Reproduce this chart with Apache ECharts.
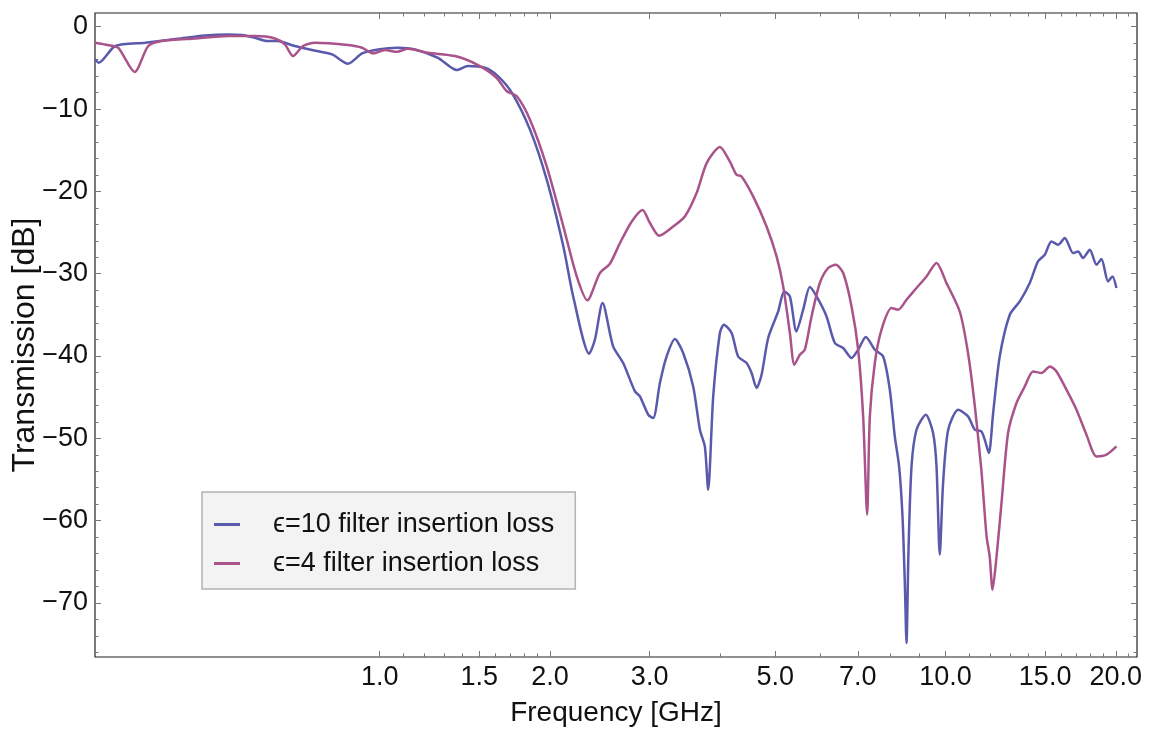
<!DOCTYPE html>
<html>
<head>
<meta charset="utf-8">
<script src="https://cdn.jsdelivr.net/npm/echarts@6/dist/echarts.min.js"></script>
<style>
html,body{margin:0;padding:0;background:#fff;}
#chart{width:1151px;height:731px;}
</style>
</head>
<body>
<div id="chart"></div>
<script>
// ---- data (frequency in GHz, transmission in dB) ----
const blueFreq = [0.314,0.319,0.341,0.385,0.440,0.491,0.540,0.571,0.602,0.632,0.659,0.708,0.759,0.824,0.879,0.931,0.993,1.077,1.154,1.268,1.369,1.432,1.535,1.618,1.713,1.843,1.973,2.111,2.198,2.346,2.401,2.477,2.586,2.694,2.826,2.884,2.983,3.044,3.128,3.215,3.325,3.439,3.582,3.681,3.756,3.807,3.886,3.993,4.059,4.188,4.301,4.451,4.543,4.636,4.731,4.860,5.062,5.187,5.309,5.451,5.604,5.758,5.918,6.163,6.375,6.595,6.823,7.009,7.232,7.501,7.759,7.973,8.136,8.280,8.395,8.475,8.533,8.603,8.709,8.887,9.231,9.508,9.641,9.770,9.903,10.11,10.53,10.96,11.27,11.57,11.73,11.93,12.14,12.47,12.99,13.53,14.09,14.57,14.98,15.39,15.81,16.25,16.81,17.15,17.50,17.99,18.49,18.86,19.38,19.73,20.05];
const blueDb = [-3.97,-4.37,-2.34,-1.94,-1.46,-1.06,-0.94,-1.01,-1.34,-1.74,-1.74,-2.34,-2.83,-3.36,-4.49,-3.24,-2.76,-2.55,-2.76,-3.77,-5.26,-4.77,-4.98,-5.99,-8.02,-12.47,-18.55,-26.64,-32.76,-39.72,-38.02,-33.56,-38.83,-40.85,-44.30,-44.90,-47.13,-47.53,-43.28,-40.05,-37.93,-39.63,-43.69,-48.95,-50.98,-56.24,-44.90,-37.20,-36.20,-37.20,-40.05,-40.85,-42.06,-43.88,-42.27,-37.81,-34.58,-32.15,-32.76,-37.01,-34.37,-31.62,-32.76,-35.19,-38.42,-39.03,-40.24,-39.23,-37.69,-39.23,-40.05,-44.09,-49.76,-53.41,-59.48,-67.57,-74.86,-63.52,-53.41,-48.95,-47.13,-49.35,-53.41,-64.13,-55.42,-48.95,-46.52,-47.33,-48.95,-49.15,-50.16,-51.78,-46.92,-40.05,-34.98,-33.36,-31.13,-28.51,-27.69,-26.08,-26.48,-25.66,-27.49,-27.29,-28.09,-27.09,-28.91,-28.22,-30.94,-30.33,-31.74];

const pinkFreq = [0.314,0.331,0.345,0.369,0.390,0.412,0.472,0.540,0.602,0.653,0.680,0.703,0.732,0.769,0.879,0.931,0.973,1.022,1.073,1.122,1.217,1.359,1.492,1.609,1.676,1.746,1.843,1.973,2.111,2.229,2.329,2.450,2.552,2.659,2.788,2.915,3.004,3.119,3.302,3.462,3.632,3.784,3.993,4.157,4.272,4.361,4.572,4.828,5.029,5.166,5.309,5.407,5.529,5.642,5.798,5.997,6.203,6.401,6.595,6.823,7.009,7.153,7.270,7.350,7.501,7.708,8.029,8.248,8.533,8.887,9.256,9.641,10.04,10.60,10.96,11.27,11.57,11.82,11.97,12.11,12.31,12.56,12.90,13.35,13.81,14.28,14.78,15.29,15.71,16.36,17.04,17.75,18.49,19.26,20.05];
const pinkDb = [-1.94,-2.22,-2.55,-5.50,-2.34,-1.74,-1.42,-1.13,-1.13,-1.42,-2.15,-3.56,-2.34,-1.94,-2.22,-2.55,-3.24,-2.83,-3.04,-2.67,-3.16,-3.56,-4.65,-6.19,-7.81,-8.42,-11.26,-16.92,-24.21,-30.28,-33.22,-29.92,-28.79,-26.27,-23.68,-22.25,-23.84,-25.39,-24.26,-23.04,-20.20,-16.56,-14.61,-16.36,-17.98,-18.18,-20.61,-24.26,-27.90,-31.54,-37.20,-41.05,-39.84,-39.23,-35.19,-31.13,-29.31,-28.91,-29.92,-33.97,-39.23,-47.33,-59.27,-47.33,-40.85,-36.80,-34.17,-34.37,-33.16,-31.74,-30.33,-28.70,-31.13,-34.62,-39.63,-46.12,-53.81,-61.91,-64.34,-68.38,-64.34,-57.85,-49.35,-45.71,-43.69,-41.87,-42.06,-41.26,-41.87,-44.09,-46.52,-49.56,-52.19,-51.98,-50.98];

const seriesNames = ['\u03F5=10 filter insertion loss', '\u03F5=4 filter insertion loss'];
const xMajorTicks = [1.0, 1.5, 2.0, 3.0, 5.0, 7.0, 10.0, 15.0, 20.0];
const xMinorTicks = [1.1,1.2,1.3,1.4,1.6,1.7,1.8,1.9,4,6,8,9,11,12,13,14,16,17,18,19,21];
const yMajorTicks = [-70,-60,-50,-40,-30,-20,-10,0];
const yMinorTicks = [-76,-74,-72,-68,-66,-64,-62,-58,-56,-54,-52,-48,-46,-44,-42,-38,-36,-34,-32,-28,-26,-24,-22,-18,-16,-14,-12,-8,-6,-4,-2];
const xRange = [0.314, 21.8];
const yRange = [-76.56, 1.67];

// ---- chart ----
const lg = v => Math.log10(v);
const FONT = '"Liberation Sans", Arial, Helvetica, sans-serif';
const tickColor = '#777';
const xMin = lg(xRange[0]), xMax = lg(xRange[1]);

function xAxisDef(pos, ticks, len, withLabels) {
  const a = {
    type: 'value', position: pos, min: xMin, max: xMax,
    axisLine: {show: false, onZero: false},
    splitLine: {show: false},
    axisTick: {show: true, inside: true, length: len, customValues: ticks.map(lg), lineStyle: {color: tickColor, width: 1}},
    axisLabel: {show: false}
  };
  if (withLabels) {
    a.axisLabel = {
      show: true, customValues: ticks.map(lg), margin: 7,
      fontFamily: FONT, fontSize: 27, color: '#111',
      formatter: v => Math.pow(10, v).toFixed(1)
    };
    a.name = 'Frequency [GHz]';
    a.nameLocation = 'middle';
    a.nameGap = 42;
    a.nameMoveOverlap = false;
    a.nameTextStyle = {fontFamily: FONT, fontSize: 28, color: '#111'};
  }
  return a;
}
function yAxisDef(pos, ticks, len, withLabels) {
  const a = {
    type: 'value', position: pos, min: yRange[0], max: yRange[1],
    axisLine: {show: false, onZero: false},
    splitLine: {show: false},
    axisTick: {show: true, inside: true, length: len, customValues: ticks, lineStyle: {color: tickColor, width: 1}},
    axisLabel: {show: false}
  };
  if (withLabels) {
    a.axisLabel = {
      show: true, customValues: ticks, margin: 7,
      fontFamily: FONT, fontSize: 27, color: '#111',
      formatter: v => String(v).replace('-', '\u2212')
    };
    a.name = 'Transmission [dB]';
    a.nameLocation = 'middle';
    a.nameGap = 54;
    a.nameMoveOverlap = false;
    a.nameTextStyle = {fontFamily: FONT, fontSize: 32, color: '#111', padding: [0, 20, 0, 0]};
  }
  return a;
}

const chart = echarts.init(document.getElementById('chart'), null, {renderer: 'canvas'});
chart.setOption({
  animation: false,
  backgroundColor: '#fff',
  grid: {left: 95, top: 13, right: 14, bottom: 74, outerBoundsMode: 'none', containLabel: false, show: true, borderColor: '#222', borderWidth: 1.2, backgroundColor: 'transparent'},
  xAxis: [
    xAxisDef('bottom', xMajorTicks, 6, true),
    xAxisDef('bottom', xMinorTicks, 3.5, false),
    xAxisDef('top', xMajorTicks, 6, false),
    xAxisDef('top', xMinorTicks, 3.5, false)
  ],
  yAxis: [
    yAxisDef('left', yMajorTicks, 6, true),
    yAxisDef('left', yMinorTicks, 3.5, false),
    yAxisDef('right', yMajorTicks, 6, false),
    yAxisDef('right', yMinorTicks, 3.5, false)
  ],
  legend: {
    orient: 'vertical', left: 202, top: 492,
    backgroundColor: '#f3f3f3', borderColor: '#b3b3b3', borderWidth: 1.5,
    padding: [19, 21, 12, 12], itemGap: 12, itemWidth: 26, itemHeight: 3,
    icon: 'rect',
    textStyle: {fontFamily: FONT, fontSize: 27, color: '#111', lineHeight: 27, padding: [0, 0, 0, 28]},
    data: seriesNames
  },
  series: [
    {
      name: seriesNames[0], type: 'line', xAxisIndex: 0, yAxisIndex: 0,
      showSymbol: false, smooth: 0.25,
      lineStyle: {color: '#5a5aad', width: 2.5}, itemStyle: {color: '#5a5aad'},
      data: blueFreq.map((f, i) => [lg(f), blueDb[i]])
    },
    {
      name: seriesNames[1], type: 'line', xAxisIndex: 0, yAxisIndex: 0,
      showSymbol: false, smooth: 0.25,
      lineStyle: {color: '#a9538a', width: 2.5}, itemStyle: {color: '#a9538a'},
      data: pinkFreq.map((f, i) => [lg(f), pinkDb[i]])
    }
  ]
});
</script>
</body>
</html>
